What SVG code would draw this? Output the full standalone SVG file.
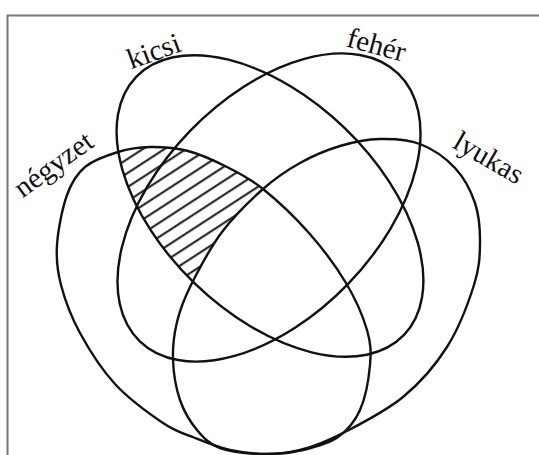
<svg xmlns="http://www.w3.org/2000/svg" width="539" height="455" viewBox="0 0 539 455">
<style>
.outline{fill:none;stroke:#111;stroke-width:2.4}
.label{font-family:"Liberation Serif","Times New Roman",serif;font-size:29px;fill:#111;text-anchor:middle}
.frame{fill:none;stroke:#777;stroke-width:2}
</style>
<defs>
<path id="shapeN" d="M150,147 C161.67,146.83 175.17,147.67 188,151 C200.83,154.33 214.5,160.67 227,167 C239.5,173.33 249.33,178 263,189 C276.67,200 295.17,217.33 309,233 C322.83,248.67 336.33,266.83 346,283 C355.67,299.17 363,316.33 367,330 C371,343.67 371.170,351.67 370,365 C368.83,378.33 365.33,398 360,410 C354.67,422 347.5,430.33 338,437 C328.5,443.67 314.67,447.17 303,450 C291.33,452.83 280.17,454 268,454 C255.83,454 242.17,452.67 230,450 C217.83,447.33 206.17,442.5 195,438 C183.83,433.5 176.33,432 163,423 C149.67,414 128.83,399 115,384 C101.17,369 89,349.5 80,333 C71,316.5 64.83,299.67 61,285 C57.17,270.33 56,260 57,245 C58,230 62.33,208 67,195 C71.67,182 76.5,174.17 85,167 C93.5,159.83 107.17,155.33 118,152 C128.83,148.67 138.33,147.17 150,147 Z"/>
<path id="shapeL" d="M380,139 C393.33,138.67 407.5,139.17 420,144 C432.5,148.83 445.83,158.17 455,168 C464.17,177.83 470.83,190.5 475,203 C479.17,215.5 480.17,229.33 480,243 C479.83,256.67 479.5,267.67 474,285 C468.5,302.33 458.83,328.33 447,347 C435.17,365.67 420.33,382.67 403,397 C385.67,411.33 360.17,424.17 343,433 C325.83,441.83 313.5,446.5 300,450 C286.5,453.5 275.33,454.33 262,454 C248.67,453.67 230.83,452 220,448 C209.17,444 203.67,438 197,430 C190.33,422 184,411.67 180,400 C176,388.33 173.5,373 173,360 C172.5,347 174,334.5 177,322 C180,309.5 183.5,300 191,285 C198.5,270 210,248 222,232 C234,216 250,200.5 263,189 C276,177.5 287.17,170.17 300,163 C312.83,155.83 326.67,150 340,146 C353.33,142 366.67,139.33 380,139 Z"/>
<ellipse id="shapeK" cx="270" cy="206" rx="186" ry="108" transform="rotate(44 270 206)"/>
<ellipse id="shapeF" cx="269" cy="207.5" rx="186" ry="110" transform="rotate(-46 269 207.5)"/>
<clipPath id="clipN"><use href="#shapeN"/></clipPath>
<clipPath id="clipK"><use href="#shapeK"/></clipPath>
<mask id="notL" maskUnits="userSpaceOnUse" x="0" y="0" width="539" height="455">
<rect x="0" y="0" width="539" height="455" fill="#fff"/>
<use href="#shapeL" fill="#000"/>
</mask>
<pattern id="hatch" patternUnits="userSpaceOnUse" width="40" height="11.8" patternTransform="rotate(-33)">
<line x1="-5" y1="2.2" x2="45" y2="2.2" stroke="#111" stroke-width="2.1"/>
</pattern>
</defs>
<rect x="0" y="0" width="539" height="455" fill="#fff"/>
<path class="frame" d="M7.5,455 V15.5 H539"/>
<g id="hatching" clip-path="url(#clipN)">
<g clip-path="url(#clipK)">
<rect x="100" y="130" width="220" height="180" fill="url(#hatch)" mask="url(#notL)"/>
</g>
</g>
<g id="negyzet">
<use href="#shapeN" class="outline"/>
<text class="label" x="59" y="172" transform="rotate(-36 59 172)">négyzet</text>
</g>
<g id="kicsi">
<use href="#shapeK" class="outline"/>
<text class="label" x="157" y="60" transform="rotate(-20 157 60)">kicsi</text>
</g>
<g id="feher">
<use href="#shapeF" class="outline"/>
<text class="label" x="374" y="54" transform="rotate(15 374 54)">fehér</text>
</g>
<g id="lyukas">
<use href="#shapeL" class="outline"/>
<text class="label" x="484" y="166" transform="rotate(30 484 166)">lyukas</text>
</g>
</svg>
